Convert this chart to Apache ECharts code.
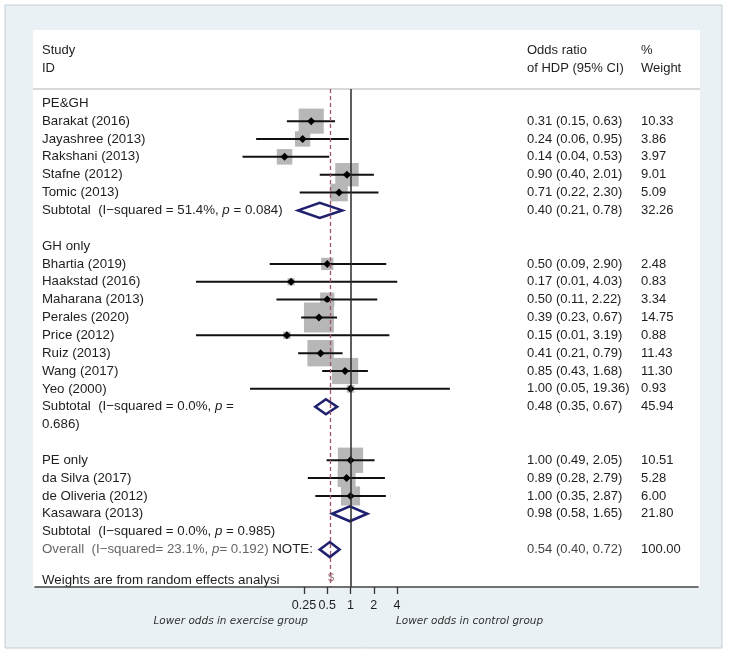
<!DOCTYPE html>
<html>
<head>
<meta charset="utf-8">
<script src="https://cdn.jsdelivr.net/npm/echarts@6/dist/echarts.min.js"></script>
<style>
html,body{margin:0;padding:0;background:#ffffff;}
#c{width:729px;height:657px;}
</style>
</head>
<body>
<div id="c"></div>
<script>
// ---------- data ----------
const labelRows = [-1, 0, 1, 2, 3, 4, 5, 7, 8, 9, 10, 11, 12, 13, 14, 15, 16, 17, 19, 20, 21, 22, 23, 24, 25.7];
const labelTexts = [
  'PE&GH',
  'Barakat (2016)',
  'Jayashree (2013)',
  'Rakshani (2013)',
  'Stafne (2012)',
  'Tomic (2013)',
  'Subtotal  (I\u2212squared = 51.4%, {i|p} = 0.084)',
  'GH only',
  'Bhartia (2019)',
  'Haakstad (2016)',
  'Maharana (2013)',
  'Perales (2020)',
  'Price (2012)',
  'Ruiz (2013)',
  'Wang (2017)',
  'Yeo (2000)',
  'Subtotal  (I\u2212squared = 0.0%, {i|p} =',
  '0.686)',
  'PE only',
  'da Silva (2017)',
  'de Oliveria (2012)',
  'Kasawara (2013)',
  'Subtotal  (I\u2212squared = 0.0%, {i|p} = 0.985)',
  '{g|Overall  (I\u2212squared= 23.1%, }{gi|p}{g|= 0.192)} NOTE:',
  'Weights are from random effects analysi'
];

const estRows   = [0, 1, 2, 3, 4, 5, 8, 9, 10, 11, 12, 13, 14, 15, 16, 19, 20, 21, 22, 24];
const estOR     = [0.31, 0.24, 0.14, 0.90, 0.71, 0.40, 0.50, 0.17, 0.50, 0.39, 0.15, 0.41, 0.85, 1.00, 0.48, 1.00, 0.89, 1.00, 0.98, 0.54];
const estLo     = [0.15, 0.06, 0.04, 0.40, 0.22, 0.21, 0.09, 0.01, 0.11, 0.23, 0.01, 0.21, 0.43, 0.05, 0.35, 0.49, 0.28, 0.35, 0.58, 0.40];
const estHi     = [0.63, 0.95, 0.53, 2.01, 2.30, 0.78, 2.90, 4.03, 2.22, 0.67, 3.19, 0.79, 1.68, 19.36, 0.67, 2.05, 2.79, 2.87, 1.65, 0.72];
const estWeight = [10.33, 3.86, 3.97, 9.01, 5.09, 32.26, 2.48, 0.83, 3.34, 14.75, 0.88, 11.43, 11.30, 0.93, 45.94, 10.51, 5.28, 6.00, 21.80, 100.00];
const estPooled = [false, false, false, false, false, true, false, false, false, false, false, false, false, false, true, false, false, false, true, true];

const tickMin = 0.25, tickMax = 4;   // labelled axis range: 0.25, 0.5, 1, 2, 4
const nullValue = 1;
const overallOR = 0.54;

// ---------- styling ----------
const FONT = '"Liberation Sans", Arial, Helvetica, sans-serif';
const TXT = '#1e1e1e';
const ROW_MIN = -1.8, ROW_MAX = 26.1;

const chart = echarts.init(document.getElementById('c'), null, {renderer: 'canvas'});

function fmt2(v) { return v.toFixed(2); }

const option = {
  animation: false,
  backgroundColor: '#ffffff',
  graphic: {
    elements: [
      {type: 'rect', z: -10, shape: {x: 5, y: 5, width: 717, height: 643},
       style: {fill: '#e9f1f4', stroke: '#c3cfd4', lineWidth: 1}},
      {type: 'rect', z: -9, shape: {x: 33, y: 30, width: 667, height: 557},
       style: {fill: '#ffffff'}},
      {type: 'line', z: -8, shape: {x1: 33, y1: 89, x2: 700, y2: 89},
       style: {stroke: '#cdcdcd', lineWidth: 1.5}},
      {type: 'text', style: {text: 'Study', x: 42, y: 50, verticalAlign: 'middle', fill: TXT, font: '13px ' + FONT}},
      {type: 'text', style: {text: 'ID', x: 42, y: 68, verticalAlign: 'middle', fill: TXT, font: '13px ' + FONT}},
      {type: 'text', style: {text: 'Odds ratio', x: 527, y: 50, verticalAlign: 'middle', fill: TXT, font: '13px ' + FONT}},
      {type: 'text', style: {text: 'of HDP (95% CI)', x: 527, y: 68, verticalAlign: 'middle', fill: TXT, font: '13px ' + FONT}},
      {type: 'text', style: {text: '%', x: 641, y: 50, verticalAlign: 'middle', fill: TXT, font: '13px ' + FONT}},
      {type: 'text', style: {text: 'Weight', x: 641, y: 68, verticalAlign: 'middle', fill: TXT, font: '13px ' + FONT}},
      {type: 'text', style: {text: 'Lower odds in exercise group', x: 308, y: 621, align: 'right', verticalAlign: 'middle',
        fill: '#333', font: 'italic 10.5px "DejaVu Sans", Verdana, sans-serif'}},
      {type: 'text', style: {text: 'Lower odds in control group', x: 396, y: 621, align: 'left', verticalAlign: 'middle',
        fill: '#333', font: 'italic 10.5px "DejaVu Sans", Verdana, sans-serif'}},
      {type: 'text', style: {text: '$', x: 331, y: 578, align: 'center', verticalAlign: 'middle',
        fill: '#9b7575', font: '11px ' + FONT}}
    ]
  },
  grid: [
    {left: 304, width: 93, top: 89, height: 498},
    {left: 35, right: 31, top: 89, height: 498}
  ],
  xAxis: [
    {
      gridIndex: 0, type: 'log', logBase: 2, min: tickMin, max: tickMax, z: 10, position: 'bottom',
      axisLine: {show: false, onZero: false},
      axisTick: {show: true, inside: false, length: 7, lineStyle: {color: '#333', width: 1.3}},
      axisLabel: {show: true, margin: 12, color: TXT, fontSize: 12.5, fontFamily: FONT},
      splitLine: {show: false}
    },
    {
      gridIndex: 1, type: 'value', min: 0, max: 1, z: 10, position: 'bottom',
      axisLine: {show: true, onZero: false, lineStyle: {color: '#444', width: 1.6}},
      axisTick: {show: false}, axisLabel: {show: false}, splitLine: {show: false}
    }
  ],
  yAxis: [
    {gridIndex: 0, type: 'value', min: ROW_MIN, max: ROW_MAX, inverse: true, show: false},
    {gridIndex: 1, type: 'value', min: ROW_MIN, max: ROW_MAX, inverse: true, show: false}
  ],
  series: [
    {
      type: 'scatter', xAxisIndex: 0, yAxisIndex: 0, z: 1, silent: true,
      symbolSize: 0, data: [[nullValue, 0]],
      markLine: {
        silent: true, symbol: ['none', 'none'], label: {show: false},
        data: [
          {xAxis: nullValue, lineStyle: {color: '#2a2a2a', width: 1.5, type: 'solid'}},
          {xAxis: overallOR, lineStyle: {color: '#a3536c', width: 1.3, type: [4, 3]}}
        ]
      }
    },
    {
      type: 'custom', xAxisIndex: 0, yAxisIndex: 0, z: 3, clip: false, silent: true,
      data: labelRows.map((r, i) => [nullValue, r, i]),
      renderItem: function (params, api) {
        const i = api.value(2);
        const y = api.coord([nullValue, api.value(1)])[1];
        return {
          type: 'text',
          style: {
            text: labelTexts[i], x: 42, y: y, verticalAlign: 'middle',
            fill: TXT, font: '13.3px ' + FONT,
            rich: {
              i: {fontStyle: 'italic', fontSize: 13.3, fontFamily: FONT, fill: TXT},
              g: {fontSize: 13.3, fontFamily: FONT, fill: '#666'},
              gi: {fontStyle: 'italic', fontSize: 13.3, fontFamily: FONT, fill: '#666'}
            }
          }
        };
      }
    },
    {
      type: 'custom', xAxisIndex: 0, yAxisIndex: 0, z: 2, clip: false, silent: true,
      data: estRows.map((r, i) => [estOR[i], r, estLo[i], estHi[i], estWeight[i], i]),
      renderItem: function (params, api) {
        const i = api.value(5);
        const row = api.value(1);
        const c = api.coord([estOR[i], row]);
        const lo = api.coord([estLo[i], row]);
        const hi = api.coord([estHi[i], row]);
        const y = c[1];
        const children = [];
        if (estPooled[i]) {
          children.push({type: 'polygon',
            shape: {points: [[lo[0], y], [c[0], y - 7.5], [hi[0], y], [c[0], y + 7.5]]},
            style: {fill: 'none', stroke: '#1f216e', lineWidth: 2.6, lineJoin: 'miter'}});
        } else {
          const s = 7.8 * Math.sqrt(estWeight[i]);
          children.push({type: 'rect', shape: {x: c[0] - s / 2, y: y - s / 2, width: s, height: s},
            style: {fill: '#b7b7b7'}});
          children.push({type: 'line', shape: {x1: lo[0], y1: y, x2: hi[0], y2: y},
            style: {stroke: '#111', lineWidth: 2}});
          children.push({type: 'polygon',
            shape: {points: [[c[0] - 4, y], [c[0], y - 4], [c[0] + 4, y], [c[0], y + 4]]},
            style: {fill: '#000'}});
        }
        const isOverall = (i === estRows.length - 1);
        children.push({type: 'text', style: {
          text: fmt2(estOR[i]) + ' (' + fmt2(estLo[i]) + ', ' + fmt2(estHi[i]) + ')',
          x: 527, y: y, verticalAlign: 'middle', fill: isOverall ? '#444' : TXT, font: '13px ' + FONT}});
        children.push({type: 'text', style: {
          text: fmt2(estWeight[i]), x: 641, y: y, verticalAlign: 'middle', fill: TXT, font: '13px ' + FONT}});
        return {type: 'group', children: children};
      }
    }
  ]
};

chart.setOption(option);
</script>
</body>
</html>
